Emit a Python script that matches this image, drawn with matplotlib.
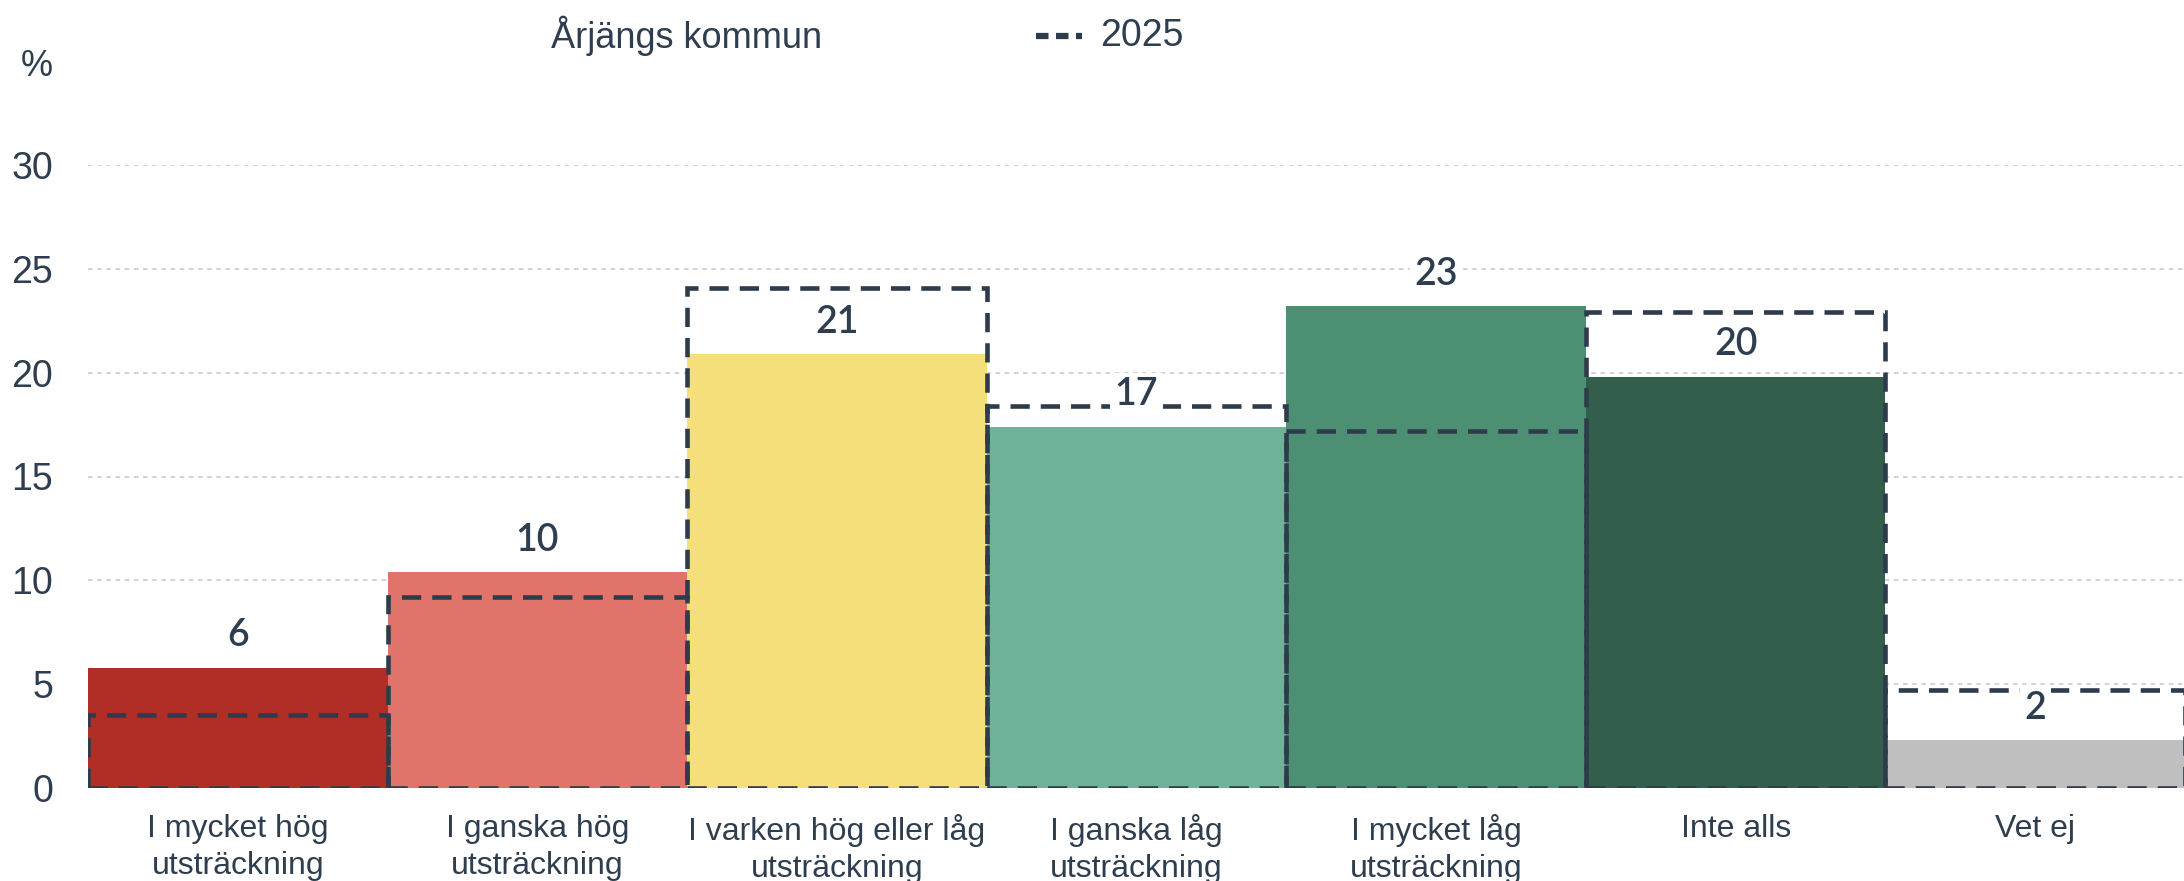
import matplotlib.pyplot as plt
from matplotlib.lines import Line2D
import numpy as np

# Data
kategorier = ["I mycket hög\nutsträckning", "I ganska hög\nutsträckning",
              "I varken hög eller låg\nutsträckning", "I ganska låg\nutsträckning",
              "I mycket låg\nutsträckning", "Inte alls", "Vet ej"]
varden = [5.8, 10.4, 20.9, 17.4, 23.2, 19.8, 2.3]
etiketter = ["6", "10", "21", "17", "23", "20", "2"]
varden_2025 = [3.5, 9.2, 24.1, 18.4, 17.2, 22.9, 4.7]
farger = ["#b02e26", "#e0746b", "#f5df7a", "#70b298", "#4c8f72", "#335e4c", "#bfbfbf"]

textfarg = "#2f3e4e"
linjefarg = "#2e3b4a"

plt.rcParams['font.family'] = ['Liberation Sans', 'DejaVu Sans']

fig = plt.figure(figsize=(21.84, 8.81), dpi=100)
ax = fig.add_axes([88 / 2184, 93 / 881, 2097 / 2184, 623 / 881])

x = np.arange(len(kategorier))

# rutnät
for v in range(0, 35, 5):
    ax.axhline(v, color="#c8c8c8", lw=1.1, ls=(0, (3, 3)), zorder=0)

ax.bar(x, varden, width=1.0, color=farger, edgecolor="none", zorder=2)
ax.bar(x, varden_2025, width=1.0, fill=False, edgecolor=linjefarg,
       linewidth=3.3, linestyle=(0, (4.2, 2.4)), zorder=3)

for xi, v, t in zip(x, varden, etiketter):
    ax.annotate(t, (xi, v), xytext=(0, 23), textcoords="offset points",
                ha="center", va="center", fontsize=27, color=textfarg,
                family=["Lato", "DejaVu Sans"], fontweight="semibold",
                bbox=dict(boxstyle="square,pad=0.12", fc="white", ec="none"),
                zorder=5)

ax.set_xlim(-0.5, 6.5)
ax.set_ylim(0, 30)
ax.set_yticks(range(0, 35, 5))
ax.set_xticks(x)
ax.set_xticklabels(kategorier, fontsize=23, color=textfarg, linespacing=1.3)
ax.tick_params(axis="x", length=0, pad=19)
ax.tick_params(axis="y", length=0, pad=25, labelsize=27, labelcolor=textfarg)
for s in ax.spines.values():
    s.set_visible(False)

# "%" och legend
fig.text(37 / 2184, 1 - 66 / 881, "%", fontsize=26, color=textfarg, ha="center", va="center")
fig.text(551 / 2184, 1 - 36 / 881, "Årjängs kommun", fontsize=26, color=textfarg,
         ha="left", va="center")
fig.add_artist(Line2D([1036 / 2184, 1082 / 2184], [1 - 36 / 881, 1 - 36 / 881],
                      transform=fig.transFigure, color=linjefarg, lw=4.5,
                      linestyle=(0, (2.0, 1.2))))
fig.text(1100 / 2184, 1 - 36 / 881, "2025", fontsize=27, color=textfarg,
         ha="left", va="center")

fig.savefig("out.png", dpi=100)
